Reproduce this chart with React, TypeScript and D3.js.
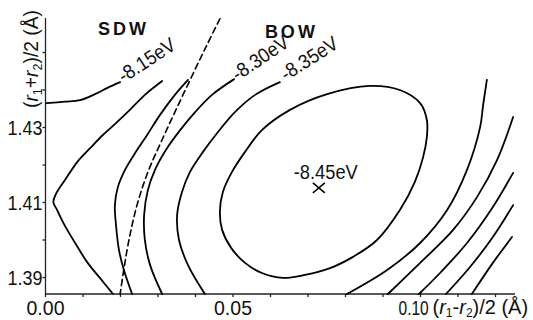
import React from "react";
import * as d3 from "d3";

const W = 533;
const H = 320;

type Pt = [number, number];

// contour lines, points are [(r1-r2)/2, (r1+r2)/2] in Å
// left branch of -8.15 eV (ends at its label)
const c815a: Pt[] = [
  [0.0003, 1.4365], [0.0052, 1.4369], [0.0092, 1.4373], [0.0132, 1.4389],
  [0.0164, 1.4405], [0.0199, 1.4421],
];
// V shaped contour next to the axis
const c820: Pt[] = [
  [0.0311, 1.4424], [0.0265, 1.4387], [0.0225, 1.4347], [0.0185, 1.4309],
  [0.0153, 1.428], [0.0119, 1.4245], [0.0087, 1.4211], [0.0052, 1.416],
  [0.0028, 1.4123], [0.0021, 1.4101], [0.0031, 1.408], [0.0049, 1.4043],
  [0.0079, 1.3992], [0.0111, 1.3941], [0.0145, 1.3899], [0.018, 1.3856],
];
const c825: Pt[] = [
  [0.038, 1.4427], [0.0345, 1.4387], [0.0305, 1.4333], [0.0271, 1.428],
  [0.0239, 1.4232], [0.0212, 1.4187], [0.0193, 1.4141], [0.0185, 1.4093],
  [0.0188, 1.404], [0.0196, 1.3973], [0.0209, 1.392], [0.0231, 1.3856],
];
const c830: Pt[] = [
  [0.0503, 1.4429], [0.0444, 1.4387], [0.0399, 1.4341], [0.0359, 1.4293],
  [0.0321, 1.424], [0.0292, 1.4187], [0.0273, 1.4133], [0.0263, 1.4067],
  [0.0265, 1.4], [0.0279, 1.3933], [0.0311, 1.3856],
];
const c835: Pt[] = [
  [0.0625, 1.4421], [0.0559, 1.4387], [0.0505, 1.4341], [0.046, 1.4288],
  [0.042, 1.4235], [0.0385, 1.4181], [0.0364, 1.4128], [0.0351, 1.4067],
  [0.0356, 1.4], [0.038, 1.3933], [0.0425, 1.3856],
];
// closed contour round the minimum
const c840: Pt[] = [
  [0.0865, 1.4411], [0.0945, 1.44], [0.0999, 1.4365], [0.1017, 1.432],
  [0.1017, 1.4275], [0.1007, 1.4221], [0.0985, 1.4155], [0.0945, 1.408],
  [0.0884, 1.4], [0.082, 1.3955], [0.0759, 1.3925], [0.0692, 1.3907],
  [0.0633, 1.3899], [0.0577, 1.3912], [0.0532, 1.3939], [0.0495, 1.3979],
  [0.0471, 1.4027], [0.0465, 1.4075], [0.0473, 1.4128], [0.0497, 1.4181],
  [0.0532, 1.4235], [0.0577, 1.4293], [0.0652, 1.4347], [0.0751, 1.4389],
];
// right hand family
const r835: Pt[] = [
  [0.1177, 1.4427], [0.1167, 1.436], [0.1159, 1.4301], [0.1124, 1.4187],
  [0.1071, 1.408], [0.0999, 1.3992], [0.0911, 1.392], [0.0804, 1.3856],
];
const r830: Pt[] = [
  [0.1247, 1.4328], [0.1204, 1.4213], [0.1151, 1.4115], [0.1087, 1.4027],
  [0.0999, 1.3939], [0.0913, 1.3856],
];
const r825: Pt[] = [
  [0.1247, 1.4179], [0.1193, 1.4088], [0.1124, 1.3992], [0.1052, 1.3912],
  [0.0996, 1.3856],
];
const r820: Pt[] = [
  [0.1247, 1.4093], [0.1193, 1.4008], [0.1132, 1.3928], [0.1068, 1.3856],
];
const r815: Pt[] = [[0.1244, 1.4008], [0.1193, 1.3939], [0.1137, 1.3856]];

// SDW / BOW boundary
const boundary: Pt[] = [
  [0.0465, 1.459], [0.0428, 1.4515], [0.0388, 1.4432], [0.0345, 1.4341],
  [0.0308, 1.4261], [0.0273, 1.4181], [0.0244, 1.4093], [0.022, 1.3987],
  [0.0199, 1.3856],
];

const minimum: Pt = [0.0729, 1.4139];

const levelLabels = ["-8.15 eV", "-8.30 eV", "-8.35 eV", "-8.45 eV"];
const levelAnchors: Pt[] = [[0.0208, 1.4418], [0.0512, 1.4423], [0.0641, 1.4423], [0.0662, 1.4162]];
const levelAngles = [-33, -34, -32.5, 0];

const xMajor = [0, 0.05, 0.1];
const xMajorLabels = ["0.00", "0.05", "0.10"];
const yMajor = [1.39, 1.41, 1.43];
const yMajorLabels = ["1.39", "1.41", "1.43"];
const xMinor = [0, 0.01, 0.02, 0.03, 0.04, 0.05, 0.06, 0.07, 0.08, 0.09, 0.1, 0.11, 0.12];
const yMinor = [1.39, 1.4, 1.41, 1.42, 1.43, 1.44, 1.45];

const phases = ["SDW", "BOW"];
const phaseAnchors: Pt[] = [[0.014, 1.4547], [0.0585, 1.4539]];

const openLines = [c815a, c820, c825, c830, c835, r835, r830, r825, r820, r815];

export default function App() {
  const x = d3.scaleLinear().domain([0, 0.1252]).range([45.5, 515]);
  const y = d3.scaleLinear().domain([1.3856, 1.4592]).range([294, 18]);

  const line = d3
    .line<Pt>()
    .x((d) => x(d[0]))
    .y((d) => y(d[1]))
    .curve(d3.curveCatmullRom.alpha(0.5));
  const closed = d3
    .line<Pt>()
    .x((d) => x(d[0]))
    .y((d) => y(d[1]))
    .curve(d3.curveCatmullRomClosed.alpha(0.5));

  const font = "'Liberation Sans', Arial, sans-serif";
  const [x0, x1] = x.range();
  const [y0, y1] = y.range();
  const mx = x(minimum[0]);
  const my = y(minimum[1]);

  return (
    <svg
      width={W}
      height={H}
      style={{ position: "absolute", left: 0, top: 0, background: "#fff" }}
      fontFamily={font}
    >
      {/* axes */}
      <g stroke="#222" strokeWidth={1.3}>
        <line x1={x0} x2={x0} y1={y0} y2={y1} />
        <line x1={x0} x2={x1} y1={y0} y2={y0} />
        {yMinor.map((v) => (
          <line key={"yt" + v} x1={x0 - 3} x2={x0} y1={y(v)} y2={y(v)} />
        ))}
        {xMinor.map((v) => (
          <line key={"xt" + v} x1={x(v)} x2={x(v)} y1={y0} y2={y0 + 3} />
        ))}
      </g>
      <g fontSize={21} fill="#111">
        {yMajor.map((v, i) => (
          <text
            key={"yl" + v}
            x={x0 - 3}
            y={y(v) + 7.5}
            textAnchor="end"
            textLength={35}
            lengthAdjust="spacingAndGlyphs"
          >
            {yMajorLabels[i]}
          </text>
        ))}
        {xMajor.map((v, i) => (
          <text
            key={"xl" + v}
            transform={`translate(${i === 2 ? x(v) - 22 : x(v)},315) scale(${i === 2 ? 0.74 : 0.93},1)`}
            textAnchor={i === 2 ? "start" : "middle"}
          >
            {xMajorLabels[i]}
          </text>
        ))}
        <text x={x(0.1) + 12} y={314} fontSize={20}>
          (<tspan fontStyle="italic">r</tspan>
          <tspan fontSize={12} dy={3}>1</tspan>
          <tspan dy={-3}>-</tspan>
          <tspan fontStyle="italic">r</tspan>
          <tspan fontSize={12} dy={3}>2</tspan>
          <tspan dy={-3}>)/2 (Å)</tspan>
        </text>
        <text transform={`translate(38,108) rotate(-90)`} fontSize={20} textLength={98} lengthAdjust="spacingAndGlyphs">
          (<tspan fontStyle="italic">r</tspan>
          <tspan fontSize={13} dy={4}>1</tspan>
          <tspan dy={-4}>+</tspan>
          <tspan fontStyle="italic">r</tspan>
          <tspan fontSize={13} dy={4}>2</tspan>
          <tspan dy={-4}>)/2 (Å)</tspan>
        </text>
      </g>

      {/* contours */}
      <g fill="none" stroke="#000" strokeWidth={1.8} strokeLinecap="round">
        {openLines.map((c, i) => (
          <path key={"c" + i} d={line(c) ?? ""} />
        ))}
        <path d={closed(c840) ?? ""} />
        <path d={line(boundary) ?? ""} strokeDasharray="6 4" strokeWidth={1.6} />
      </g>

      {/* level labels */}
      <g fontSize={20} fill="#111">
        {levelLabels.map((t, i) => (
          <text
            key={t}
            transform={`translate(${x(levelAnchors[i][0])},${y(levelAnchors[i][1])}) rotate(${levelAngles[i]})`}
            textLength={64}
            lengthAdjust="spacingAndGlyphs"
          >
            {t.replace(" ", "")}
          </text>
        ))}
      </g>

      {/* minimum */}
      <g stroke="#000" strokeWidth={1.5}>
        <line x1={mx - 6} x2={mx + 6} y1={my - 5} y2={my + 5} />
        <line x1={mx - 6} x2={mx + 6} y1={my + 5} y2={my - 5} />
      </g>

      {/* phase names */}
      <g fontSize={18} fontWeight="bold" letterSpacing={3} fill="#111">
        {phases.map((p, i) => (
          <text key={p} x={x(phaseAnchors[i][0])} y={y(phaseAnchors[i][1])}>
            {p}
          </text>
        ))}
      </g>
    </svg>
  );
}
